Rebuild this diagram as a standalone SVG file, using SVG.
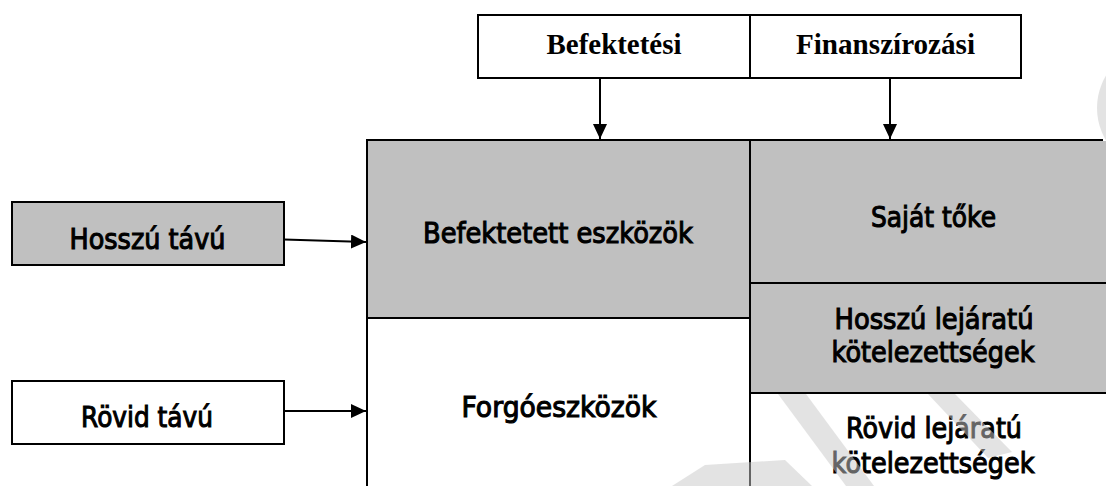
<svg xmlns="http://www.w3.org/2000/svg" width="1106" height="486" viewBox="0 0 1106 486">
<style>
.box{stroke:#000;stroke-width:2}
.g{fill:#c0c0c0}
.w{fill:#fff}
.ln{stroke:#000;stroke-width:2;fill:none}
.sans{font-family:"DejaVu Sans","Open Sans",sans-serif;font-size:28px;fill:#000;stroke:#000;stroke-width:1.1px;text-anchor:middle}
.serif{font-family:"Liberation Serif","Times New Roman",serif;font-weight:bold;font-size:29px;fill:#000;text-anchor:middle}
.wm{fill:#c8c8c8;opacity:0.5}
</style>
<defs>
<marker id="ah" markerUnits="userSpaceOnUse" markerWidth="16" markerHeight="14" refX="15" refY="7" orient="auto">
<path d="M0,0 L15,7 L0,14 z" fill="#000"/>
</marker>
</defs>
<rect width="1106" height="486" fill="#fff"/>

<g id="top-befektetesi">
<rect class="box w" x="478" y="15" width="272" height="63"/>
<text class="serif" x="614" y="54" textLength="135" lengthAdjust="spacingAndGlyphs">Befektetési</text>
</g>
<g id="top-finanszirozasi">
<rect class="box w" x="750" y="15" width="271" height="63"/>
<text class="serif" x="885.5" y="54" textLength="179" lengthAdjust="spacingAndGlyphs">Finanszírozási</text>
</g>

<g id="hosszu-tavu">
<rect class="box g" x="12" y="202" width="272" height="63"/>
<text class="sans" x="147.5" y="249" textLength="156" lengthAdjust="spacingAndGlyphs">Hosszú távú</text>
</g>
<g id="rovid-tavu">
<rect class="box w" x="12" y="381" width="272" height="63"/>
<text class="sans" x="147" y="427" textLength="132" lengthAdjust="spacingAndGlyphs">Rövid távú</text>
</g>

<g id="befektetett-eszkozok">
<rect class="box g" x="367" y="140" width="383" height="178"/>
<text class="sans" x="558" y="243" textLength="270" lengthAdjust="spacingAndGlyphs">Befektetett eszközök</text>
</g>
<g id="forgoeszkozok">
<rect class="box w" x="367" y="318" width="383" height="190"/>
<text class="sans" x="559" y="417" textLength="195" lengthAdjust="spacingAndGlyphs">Forgóeszközök</text>
</g>
<g id="sajat-toke">
<rect class="box g" x="750" y="140" width="352" height="143"/>
<text class="sans" x="933.5" y="227" textLength="125" lengthAdjust="spacingAndGlyphs">Saját tőke</text>
</g>
<g id="hosszu-lejaratu">
<rect class="g" x="750" y="283" width="360" height="110"/>
<text class="sans" x="934" y="329" textLength="199" lengthAdjust="spacingAndGlyphs">Hosszú lejáratú</text>
<text class="sans" x="933" y="362" textLength="203" lengthAdjust="spacingAndGlyphs">kötelezettségek</text>
</g>
<g id="rovid-lejaratu">
<rect class="w" x="750" y="393" width="360" height="110"/>
<text class="sans" x="934" y="438" textLength="176" lengthAdjust="spacingAndGlyphs">Rövid lejáratú</text>
<text class="sans" x="933" y="473" textLength="203" lengthAdjust="spacingAndGlyphs">kötelezettségek</text>
</g>
<g id="grid-lines">
<rect class="g" x="1101" y="141" width="6" height="141"/>
<line class="ln" x1="750" y1="283" x2="1110" y2="283"/>
<line class="ln" x1="750" y1="393" x2="1110" y2="393"/>
<line class="ln" x1="750" y1="140" x2="750" y2="490"/>
<line class="ln" x1="367" y1="140" x2="367" y2="490"/>
</g>

<g id="connectors">
<line class="ln" x1="600" y1="78" x2="600" y2="139" marker-end="url(#ah)"/>
<line class="ln" x1="890" y1="78" x2="890" y2="139" marker-end="url(#ah)"/>
<line class="ln" x1="284" y1="239.5" x2="366" y2="242" marker-end="url(#ah)"/>
<line class="ln" x1="284" y1="411" x2="366" y2="411" marker-end="url(#ah)"/>
</g>

<g id="watermark">
<polygon class="wm" points="778,394 806,394 874,486 846,486"/>
<polygon class="wm" points="928,394 955,394 1012,452 988,458"/>
<polygon class="wm" points="672,486 705,465 785,460 812,486"/>
<circle class="wm" cx="1160" cy="108" r="63"/>
</g>
</svg>
